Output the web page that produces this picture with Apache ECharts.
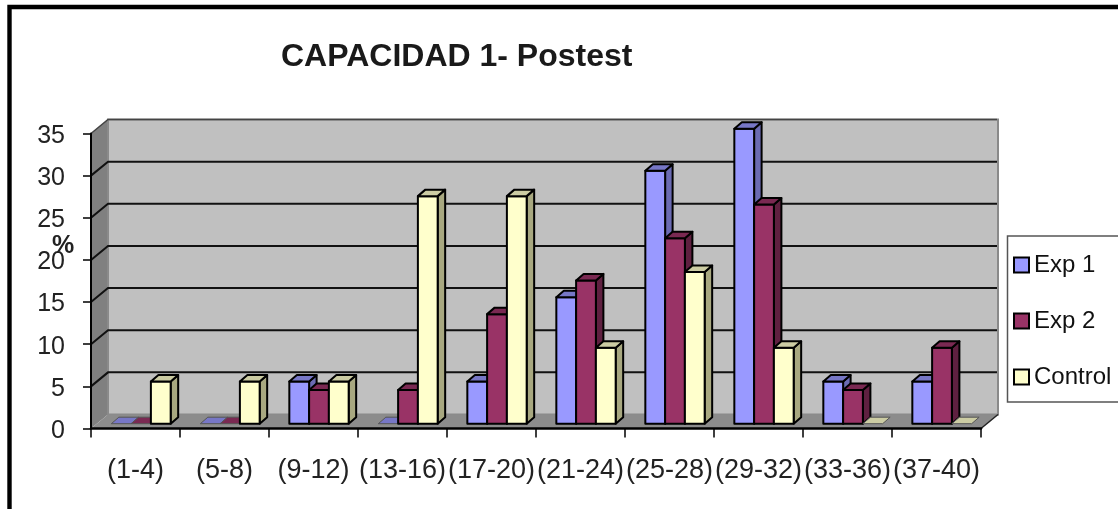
<!DOCTYPE html>
<html><head><meta charset="utf-8">
<style>html,body{margin:0;padding:0;background:#fff}#c{width:1118px;height:509px;filter:blur(0.45px)}</style>
<script src="https://cdn.jsdelivr.net/npm/echarts@6/dist/echarts.min.js"></script>
</head><body><div id="c"></div>
<script>
const categories = ['(1-4)','(5-8)','(9-12)','(13-16)','(17-20)','(21-24)','(25-28)','(29-32)','(33-36)','(37-40)'];
const exp1 = [0,0,5,0,5,15,30,35,5,5];
const exp2 = [0,0,4,4,13,17,22,26,4,9];
const control = [5,5,5,27,27,9,18,9,0,0];
const yTicks = [0,5,10,15,20,25,30,35];
const seriesNames = ['Exp 1','Exp 2','Control'];
const faceColors = ['#9999FF','#993366','#FFFFCC'];
const sideColors = ['#6B6BB3','#5F2040','#A8A880'];
const topColors = ['#7777C6','#7A2952','#CCCCA3'];

const DX = 17, DY = -14, BX = 7.5, BY = -6.5, OX = 5.5, OY = -4.8;
const font = '"Liberation Sans", Arial, sans-serif';

function barRenderer(si) {
  return function (params, api) {
    const cat = api.value(0), val = api.value(1);
    const band = api.size([1, 0])[0];
    const w = band / 4.5;
    const c = api.coord([cat, val]);
    const b = api.coord([cat, 0]);
    const x0 = c[0] - 1.5 * w + si * w + OX;
    const x1 = x0 + w;
    const yt = c[1] + OY, yb = b[1] + OY;
    const ln = {stroke: '#000', lineWidth: 2, lineJoin: 'round'};
    const kids = [];
    if (val > 0) {
      kids.push({type: 'polygon', shape: {points: [[x1, yt], [x1 + BX, yt + BY], [x1 + BX, yb + BY], [x1, yb]]},
        style: Object.assign({fill: sideColors[si]}, ln)});
      kids.push({type: 'rect', shape: {x: x0, y: yt, width: w, height: yb - yt},
        style: Object.assign({fill: api.visual('color')}, ln)});
    }
    kids.push({type: 'polygon', shape: {points: [[x0, yt], [x0 + BX, yt + BY], [x1 + BX, yt + BY], [x1, yt]]},
      style: val > 0 ? Object.assign({fill: topColors[si]}, ln)
                     : {fill: topColors[si], stroke: '#555', lineWidth: 1}});
    return {type: 'group', children: kids};
  };
}

const wallSeries = {
  type: 'custom', name: 'wall', silent: true, z: 1,
  coordinateSystem: 'cartesian2d', legendHoverLink: false, tooltip: {show: false},
  data: yTicks.map(v => [0, v]),
  encode: {x: 0, y: 1},
  renderItem: function (params, api) {
    const v = api.value(1);
    const band = api.size([1, 0])[0];
    const first = api.coord([0, v]);
    const x0 = first[0] - band / 2, x1 = x0 + band * categories.length, y = first[1];
    const kids = [];
    if (params.dataIndex === 0) {
      const top = api.coord([0, yTicks[yTicks.length - 1]])[1];
      kids.push({type: 'polygon', shape: {points: [[x0, y], [x0, top], [x0 + DX, top + DY], [x0 + DX, y + DY]]},
        style: {fill: '#808080', stroke: 'none'}});
      kids.push({type: 'rect', shape: {x: x0 + DX, y: top + DY, width: x1 - x0, height: y - top},
        style: {fill: '#C0C0C0', stroke: '#8A8A8A', lineWidth: 2}});
      kids.push({type: 'polygon', shape: {points: [[x0, y], [x0 + DX, y + DY], [x1 + DX, y + DY], [x1, y]]},
        style: {fill: '#8C8C8C', stroke: 'none'}});
      kids.push({type: 'line', shape: {x1: x1, y1: y, x2: x1 + DX, y2: y + DY},
        style: {stroke: '#222', lineWidth: 1.5}});
    } else {
      const isTop = v === yTicks[yTicks.length - 1];
      kids.push({type: 'polyline', shape: {points: [[x0, y], [x0 + DX, y + DY], [x1 + DX - 1, y + DY]]},
        style: {stroke: isTop ? '#444' : '#111', lineWidth: isTop ? 1.5 : 2, fill: 'none'}});
    }
    return {type: 'group', children: kids};
  }
};

const barSeries = seriesNames.map((name, si) => ({
  type: 'custom', name, z: 3, coordinateSystem: 'cartesian2d',
  itemStyle: {color: faceColors[si], borderColor: '#000', borderWidth: 2},
  data: [exp1, exp2, control][si].map((v, i) => [i, v]),
  encode: {x: 0, y: 1},
  renderItem: barRenderer(si)
}));

const chart = echarts.init(document.getElementById('c'), null, {renderer: 'canvas'});
chart.setOption({
  animation: false,
  backgroundColor: '#fff',
  textStyle: {fontFamily: font},
  title: {text: 'CAPACIDAD 1- Postest', left: 281, top: 41, padding: 0,
    textStyle: {fontFamily: font, fontSize: 32, fontWeight: 'bold', color: '#1a1a1a'}},
  grid: {left: 91, right: 137, top: 133.5, bottom: 80.5, containLabel: false},
  xAxis: {type: 'category', data: categories, boundaryGap: true, z: 5,
    axisLine: {show: true, onZero: false, lineStyle: {color: '#000', width: 2.5}},
    axisTick: {show: true, alignWithLabel: false, length: 9, lineStyle: {color: '#000', width: 1.5}},
    axisLabel: {fontFamily: font, fontSize: 27, color: '#222', margin: 29, interval: 0, hideOverlap: false},
    splitLine: {show: false}},
  yAxis: {type: 'value', min: 0, max: 35, interval: 5, z: 5,
    axisLine: {show: true, lineStyle: {color: '#000', width: 2}},
    axisTick: {show: true, length: 8, lineStyle: {color: '#000', width: 1.5}},
    axisLabel: {margin: 26, formatter: '{a|{value}}',
      rich: {a: {fontFamily: font, fontSize: 25, color: '#222', padding: [5, 0, 0, 0]}}},
    splitLine: {show: false}},
  legend: {show: true, data: seriesNames, orient: 'vertical', left: 1013, top: 253, padding: 0, itemGap: 32,
    itemWidth: 15, itemHeight: 15, icon: 'rect', selectedMode: false,
    textStyle: {fontFamily: font, fontSize: 24, color: '#111', padding: [0, 0, 0, 0]}},
  tooltip: {show: false},
  graphic: [
    {type: 'rect', silent: true, z: -1, shape: {x: 9.5, y: 7, width: 1200, height: 600}, style: {fill: '#fff', stroke: '#000', lineWidth: 4.4}},
    {type: 'rect', silent: true, z: -1, shape: {x: 1007.5, y: 236, width: 130, height: 166}, style: {fill: '#fff', stroke: '#555', lineWidth: 1.5}},
    {type: 'text', silent: true, z: 10, x: 63, y: 246, style: {text: '%', fontFamily: font, fontSize: 25, fontWeight: 'bold', fill: '#222', textAlign: 'center', textVerticalAlign: 'middle'}}
  ],
  series: [wallSeries].concat(barSeries)
});
</script></body></html>
